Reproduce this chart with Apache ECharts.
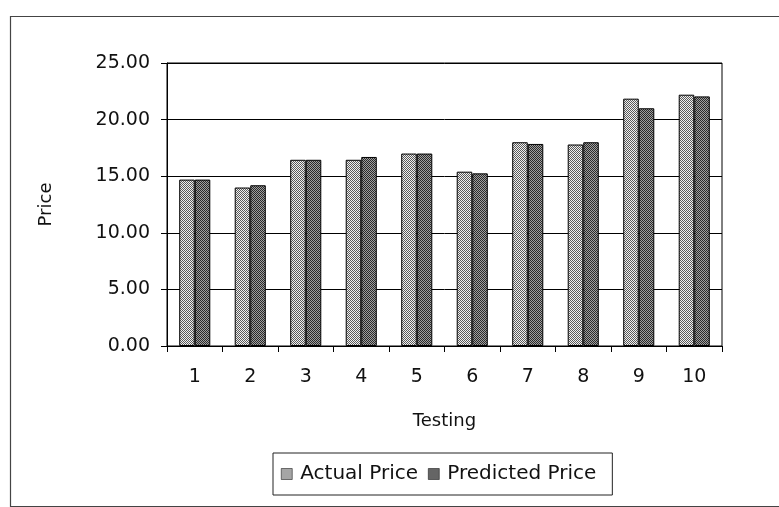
<!DOCTYPE html>
<html>
<head>
<meta charset="utf-8">
<script src="https://cdn.jsdelivr.net/npm/echarts@6/dist/echarts.min.js"></script>
<style>
html,body{margin:0;padding:0;background:#fff;}
#chart{width:779px;height:507px;}
</style>
</head>
<body>
<div id="chart"></div>
<script>
const categories = ['1','2','3','4','5','6','7','8','9','10'];
const actualPrice = [14.7, 14.0, 16.45, 16.45, 17.0, 15.4, 18.0, 17.8, 21.85, 22.2];
const predictedPrice = [14.7, 14.2, 16.45, 16.7, 17.0, 15.25, 17.85, 18.0, 21.0, 22.05];
const yTicks = [0, 5, 10, 15, 20, 25];

function makePattern(c1, c2) {
  const cv = document.createElement('canvas');
  cv.width = 2; cv.height = 2;
  const ctx = cv.getContext('2d');
  ctx.fillStyle = c1; ctx.fillRect(0,0,2,2);
  ctx.fillStyle = c2; ctx.fillRect(0,0,1,1); ctx.fillRect(1,1,1,1);
  return {image: cv, repeat: 'repeat'};
}
const patActual = makePattern('#f0f0f0', '#5a5a5a');
const patPred = makePattern('#a0a0a0', '#2a2a2a');

const chart = echarts.init(document.getElementById('chart'));
const font = 'DejaVu Sans, Liberation Sans, Arial, sans-serif';
chart.setOption({
  animation: false,
  backgroundColor: '#fff',
  graphic: [{
    type: 'rect', left: 8, top: 14, silent: true, z: -1,
    shape: {width: 800, height: 490},
    style: {fill: 'none', stroke: '#444', lineWidth: 1.2}
  }],
  grid: {left: 167, right: 57, top: 63, bottom: 161, show: true, borderColor: '#000', borderWidth: 1, backgroundColor: 'transparent'},
  legend: {
    data: ['Actual Price', 'Predicted Price'],
    left: 273, top: 453,
    padding: [11, 16, 11, 8],
    borderColor: '#222', borderWidth: 1,
    icon: 'rect',
    itemWidth: 11, itemHeight: 11, itemGap: 10,
    textStyle: {fontFamily: font, fontSize: 20, color: '#111', padding: [0,0,0,3]},
    itemStyle: {borderColor: '#000', borderWidth: 0.5}
  },
  xAxis: {
    type: 'category',
    data: categories,
    name: 'Testing',
    nameLocation: 'middle',
    nameGap: 66,
    nameTextStyle: {fontFamily: font, fontSize: 18, color: '#111'},
    axisLine: {lineStyle: {color: '#000', width: 1}},
    axisTick: {show: true, inside: false, length: 6, lineStyle: {color: '#000'}},
    axisLabel: {fontFamily: font, fontSize: 19, color: '#111', margin: 22}
  },
  yAxis: {
    type: 'value',
    min: 0, max: 25, interval: 5,
    name: 'Price',
    nameLocation: 'middle',
    nameGap: 112,
    nameTextStyle: {fontFamily: font, fontSize: 18, color: '#111'},
    axisLine: {show: true, lineStyle: {color: '#000'}},
    axisTick: {show: true, length: 6, lineStyle: {color: '#000'}},
    splitLine: {show: true, lineStyle: {color: '#000', width: 1}},
    axisLabel: {fontFamily: font, fontSize: 19, color: '#111', margin: 17,
      formatter: v => yTicks.includes(v) ? v.toFixed(2) : ''}
  },
  series: [
    {name: 'Actual Price', type: 'bar', data: actualPrice, barGap: '0%', barCategoryGap: '44%',
     itemStyle: {color: patActual, borderColor: '#000', borderWidth: 1}},
    {name: 'Predicted Price', type: 'bar', data: predictedPrice,
     itemStyle: {color: patPred, borderColor: '#000', borderWidth: 1}}
  ]
});
</script>
</body>
</html>
